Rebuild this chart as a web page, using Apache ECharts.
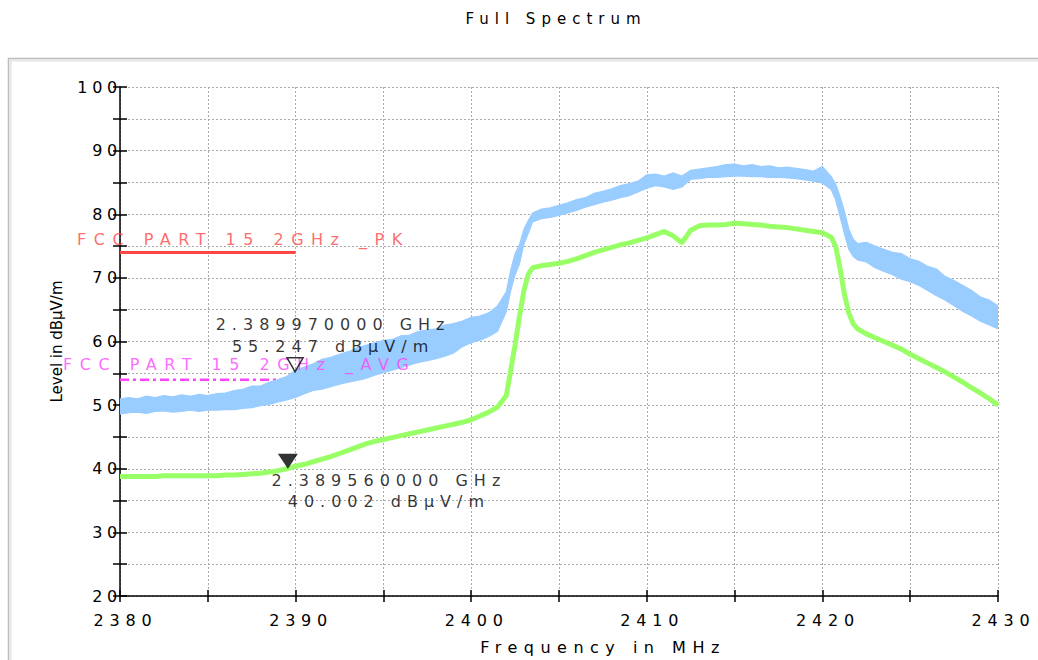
<!DOCTYPE html>
<html><head><meta charset="utf-8">
<script src="https://cdn.jsdelivr.net/npm/echarts@6/dist/echarts.min.js"></script>
<style>
html,body{margin:0;padding:0;background:#fff;}
#chart{width:1038px;height:660px;}
#chart text{letter-spacing:6px;}
</style></head><body><div id="chart"></div>
<script>
// Frequency (MHz)
const freq = [
2380,2380.5,2381,2381.5,2382,2382.5,2383,2383.5,2384,2384.5,
2385,2385.5,2386,2386.5,2387,2387.5,2388,2388.5,2389,2389.5,
2390,2390.5,2391,2391.5,2392,2392.5,2393,2393.5,2394,2394.5,
2395,2395.5,2396,2396.5,2397,2397.5,2398,2398.5,2399,2399.5,
2400,2400.5,2401,2401.5,2402,2402.25,2402.5,2402.75,2403,2403.25,
2403.5,2404,2404.5,2405,2405.5,2406,2406.5,2407,2407.5,2408,
2408.5,2409,2409.5,2410,2410.5,2411,2411.5,2412,2412.5,2413,
2413.5,2414,2414.5,2415,2415.5,2416,2416.5,2417,2417.5,2418,
2418.5,2419,2419.5,2420,2420.5,2420.75,2421,2421.25,2421.5,2421.75,
2422,2422.5,2423,2423.5,2424,2424.5,2425,2425.5,2426,2426.5,
2427,2427.5,2428,2428.5,2429,2429.5,2430];
// Peak trace (blue), lower and upper edge of the noise band (dBuV/m)
const peakLow = [
48.6,48.8,48.9,48.7,49.0,49.1,48.9,49.0,49.2,49.0,
49.2,49.2,49.3,49.3,49.5,49.6,49.9,50.1,50.5,50.8,
51.2,51.8,52.3,52.5,52.9,53.3,53.6,53.9,54.2,54.7,
55.1,55.5,55.9,56.3,56.7,57.0,57.3,57.7,58.2,59.2,
59.8,60.2,60.8,61.6,64.7,68.0,70.5,72.2,75.3,77.0,
78.8,79.3,79.5,79.8,80.2,80.6,81.1,81.5,81.9,82.2,
82.6,82.9,83.5,84.1,84.5,84.3,83.9,84.3,85.5,85.6,
85.8,85.8,85.9,86.0,86.0,85.9,85.9,85.8,85.8,85.7,
85.6,85.4,85.2,84.9,83.9,82.3,79.7,77.0,74.5,73.4,
72.8,72.5,71.6,71.0,70.5,69.8,69.4,68.8,68.0,67.2,
66.5,65.6,64.7,64.0,63.2,62.6,62.0];
const peakHigh = [
51.0,51.2,51.0,51.4,51.2,51.5,51.3,51.6,51.4,51.7,
51.5,51.8,51.9,52.3,52.5,53.0,53.0,53.6,54.0,54.5,
55.5,56.0,56.5,57.2,57.5,58.0,58.4,59.0,59.4,59.8,
60.2,60.3,60.9,61.0,61.6,61.8,62.0,62.6,62.8,63.2,
63.8,64.0,64.5,65.6,67.8,71.2,73.8,75.2,77.6,79.0,
80.2,80.8,81.0,81.4,81.8,82.3,82.6,83.3,83.6,84.0,
84.5,84.8,85.2,86.2,86.3,86.0,86.5,86.0,86.9,87.1,
87.3,87.5,87.8,87.9,87.6,87.8,87.5,87.6,87.3,87.4,
87.2,87.0,86.8,87.5,85.9,84.8,82.8,80.5,77.7,76.1,
75.4,75.6,75.0,74.5,74.0,73.8,73.0,72.6,71.8,71.4,
70.2,69.6,68.8,68.0,67.0,66.5,65.6];
// Average trace (green)
const avgTrace = [
38.8,38.8,38.8,38.8,38.8,38.9,38.9,38.9,38.9,38.9,
38.9,38.9,39.0,39.0,39.1,39.2,39.3,39.5,39.7,40.0,
40.4,40.7,41.1,41.5,41.9,42.4,42.9,43.4,43.9,44.3,
44.6,44.9,45.2,45.5,45.8,46.1,46.4,46.7,47.0,47.3,
47.7,48.3,48.9,49.7,51.5,55.5,59.5,64.0,68.0,70.6,
71.6,71.9,72.1,72.3,72.6,73.0,73.5,74.0,74.4,74.8,
75.2,75.5,75.9,76.3,76.8,77.3,76.6,75.5,77.5,78.2,
78.3,78.3,78.4,78.6,78.5,78.4,78.3,78.1,78.0,77.9,
77.7,77.5,77.3,77.1,76.4,75.0,71.5,67.5,64.5,62.8,
62.0,61.2,60.6,60.0,59.4,58.8,58.0,57.3,56.6,55.9,
55.2,54.4,53.6,52.7,51.9,51.0,50.0];
// Limit lines
const limitNames = ['FCC PART 15 2GHz _PK', 'FCC PART 15 2GHz _AVG'];
const limitLevels = [74, 54];
const limitSpan = [2380, 2390];
// Markers
const markerFreqs = [2389.97, 2389.56];
const markerLevels = [55.247, 40.002];
// Axes
const xRange = [2380, 2430];
const yRange = [20, 100];

const FONT = '"DejaVu Sans", Verdana, sans-serif';
const chart = echarts.init(document.getElementById('chart'), null, {renderer: 'svg'});

function mkLabel(i) {
  return (markerFreqs[i] / 1000).toFixed(9) + ' GHz\n' + markerLevels[i].toFixed(3) + ' dBµV/m';
}

const baseAxisX = {type: 'value', min: xRange[0], max: xRange[1], interval: 5};
const baseAxisY = {type: 'value', min: yRange[0], max: yRange[1], interval: 5};

const option = {
  animation: false,
  backgroundColor: '#fff',
  title: {
    text: 'Full Spectrum', left: 551, top: 6, textAlign: 'center',
    textStyle: {fontSize: 15, fontWeight: 'normal', color: '#000', fontFamily: FONT}
  },
  graphic: [
    {type: 'rect', shape: {x: 8.5, y: 58.5, width: 1060, height: 640}, style: {fill: 'none', stroke: '#bdbdbd', lineWidth: 1.5}, silent: true, z: -10},
    {type: 'rect', shape: {x: 10.5, y: 60.5, width: 1060, height: 640}, style: {fill: 'none', stroke: '#e6e6e6', lineWidth: 2}, silent: true, z: -10}
  ],
  grid: {left: 120, right: 40, top: 87, bottom: 61},
  xAxis: [
    Object.assign({}, baseAxisX, {
      position: 'bottom',
      axisLine: {show: true, lineStyle: {color: '#000', width: 1.5}},
      axisTick: {show: true, length: 6, lineStyle: {color: '#000', width: 1.5}},
      axisLabel: {formatter: v => (v % 10 === 0 ? String(v) : ''), color: '#000', fontSize: 16, fontFamily: FONT, margin: 16, padding: [0, 0, 0, 11]},
      splitLine: {show: true, lineStyle: {type: [2, 2], color: '#aaa', width: 1}},
      name: 'Frequency in MHz', nameLocation: 'middle', nameGap: 43,
      nameTextStyle: {fontSize: 16, color: '#000', fontFamily: FONT, padding: [0, 0, 0, 88]}
    }),
    Object.assign({}, baseAxisX, {
      position: 'bottom',
      axisLine: {show: false},
      axisTick: {show: true, inside: true, length: 6, lineStyle: {color: '#000', width: 1.5}},
      axisLabel: {show: false}, splitLine: {show: false}
    })
  ],
  yAxis: [
    Object.assign({}, baseAxisY, {
      position: 'left',
      axisLine: {show: true, lineStyle: {color: '#000', width: 1.5}},
      axisTick: {show: true, length: 7, lineStyle: {color: '#000', width: 1.5}},
      axisLabel: {formatter: v => (v % 10 === 0 ? String(v) : ''), color: '#000', fontSize: 16, fontFamily: FONT, margin: -2, padding: [0, 0, 4, 0]},
      splitLine: {show: true, lineStyle: {type: [2, 2], color: '#aaa', width: 1}},
      name: 'Level in dBµV/m', nameLocation: 'middle', nameGap: 56, nameRotate: 90,
      nameTextStyle: {fontSize: 15, color: '#000', fontFamily: FONT}
    }),
    Object.assign({}, baseAxisY, {
      position: 'left',
      axisLine: {show: false},
      axisTick: {show: true, inside: true, length: 7, lineStyle: {color: '#000', width: 1.5}},
      axisLabel: {show: false}, splitLine: {show: false}
    })
  ],
  series: [
    {
      type: 'line', name: 'PK limit', z: 2, symbol: 'none',
      data: limitSpan.map(f => [f, limitLevels[0]]),
      lineStyle: {color: '#ff4646', width: 3}
    },
    {
      type: 'line', name: 'AVG limit', z: 2, symbol: 'none',
      data: limitSpan.map(f => [f, limitLevels[1]]),
      lineStyle: {color: '#ff44ff', width: 2.5, type: [9, 4, 3, 4]}
    },
    {
      type: 'custom', name: 'PK', z: 3, clip: true,
      data: [[freq[0], peakLow[0]]],
      renderItem: function (params, api) {
        const pts = [];
        for (let i = 0; i < freq.length; i++) pts.push(api.coord([freq[i], peakHigh[i]]));
        for (let i = freq.length - 1; i >= 0; i--) pts.push(api.coord([freq[i], peakLow[i]]));
        return {type: 'polygon', shape: {points: pts}, style: {fill: '#99ccff', stroke: '#99ccff', lineWidth: 1.2}};
      }
    },
    {
      type: 'line', name: 'AVG', z: 4, symbol: 'none',
      data: freq.map((f, i) => [f, avgTrace[i]]),
      lineStyle: {color: '#99ff66', width: 5}
    },
    {
      type: 'scatter', name: 'limit labels', z: 6, silent: true,
      symbolSize: 1, itemStyle: {color: 'rgba(0,0,0,0)'},
      data: [
        {value: [limitSpan[0], limitLevels[0]], label: {show: true, position: 'right', offset: [-48.5, -13], color: '#ff4646', formatter: limitNames[0]}},
        {value: [limitSpan[0], limitLevels[1]], label: {show: true, position: 'right', offset: [-62.5, -15], color: '#ff44ff', formatter: limitNames[1]}}
      ],
      label: {fontSize: 16, fontFamily: FONT}
    },
    {
      type: 'scatter', name: 'marker PK', z: 7, silent: true,
      symbol: 'triangle', symbolRotate: 180, symbolSize: [16, 14], symbolOffset: [0, '-50%'],
      itemStyle: {color: 'rgba(255,255,255,0)', borderColor: '#000', borderWidth: 1.5},
      data: [[markerFreqs[0], markerLevels[0]]],
      label: {show: true, position: 'top', offset: [38, 5.5], formatter: () => mkLabel(0), color: '#000', fontSize: 16, fontFamily: FONT, lineHeight: 22, align: 'center'}
    },
    {
      type: 'scatter', name: 'marker AVG', z: 7, silent: true,
      symbol: 'triangle', symbolRotate: 180, symbolSize: [20, 15], symbolOffset: [0, '-50%'],
      itemStyle: {color: '#000'},
      data: [[markerFreqs[1], markerLevels[1]]],
      label: {show: true, position: 'bottom', offset: [101, -4], formatter: () => mkLabel(1), color: '#000', fontSize: 16, fontFamily: FONT, lineHeight: 21, align: 'center'}
    }
  ]
};
chart.setOption(option);

function fixSpacing() {
  document.querySelectorAll('#chart text').forEach(t => {
    const s = t.textContent.trim();
    let ls = null;
    if (s.indexOf('Level') === 0) ls = 0;
    else if (/^\d{4}$/.test(s)) ls = 5.8;
    else if (/^\d{2,3}$/.test(s)) ls = 4.7;
    else if (s === 'Full Spectrum') ls = 6;
    else if (s === 'Frequency in MHz') ls = 6.5;
    else if (s.indexOf('FCC') === 0) ls = 7.5;
    if (ls !== null) t.style.letterSpacing = ls + 'px';
  });
}
chart.on('finished', fixSpacing);
fixSpacing();
setTimeout(fixSpacing, 30);
</script></body></html>
